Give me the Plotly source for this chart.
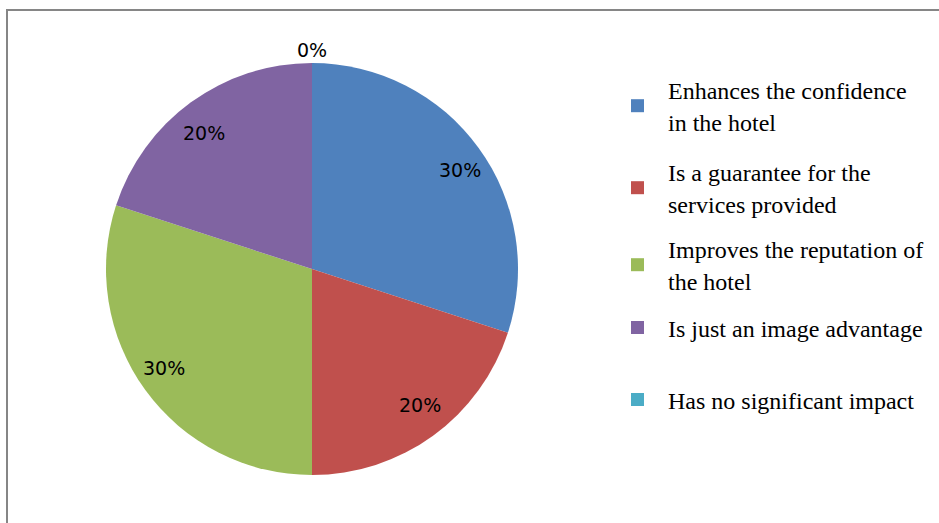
import math
import plotly.graph_objects as go

categories = [
    "Enhances the confidence<br>in the hotel",
    "Is a guarantee for the<br>services provided",
    "Improves the reputation of<br>the hotel",
    "Is just an image advantage",
    "Has no significant impact",
]
values = [30, 20, 30, 20, 0]
colors = ["#4F81BD", "#C0504D", "#9BBB59", "#8064A2", "#4BACC6"]

W, H = 939, 523
cx, cy, R = 312, 269, 206  # pie centre / radius in pixels

fig = go.Figure()
fig.add_trace(go.Pie(
    labels=categories,
    values=values,
    sort=False,
    direction="clockwise",
    rotation=0,
    marker=dict(colors=colors, line=dict(width=0)),
    textinfo="none",
    hoverinfo="label+percent",
    domain=dict(x=[(cx - R) / W, (cx + R) / W], y=[1 - (cy + R) / H, 1 - (cy - R) / H]),
    showlegend=False,
))

# legend entries (one legend box per entry so spacing can follow the original)
legend_centers = [106, 188, 265, 328, 400]
legend_names = ["legend", "legend2", "legend3", "legend4", "legend5"]
for name, col, lg in zip(categories, colors, legend_names):
    fig.add_trace(go.Scatter(
        x=[None], y=[None], mode="markers", name=name,
        marker=dict(symbol="square", size=13, color=col),
        legend=lg, showlegend=True, hoverinfo="skip",
    ))

# percentage labels placed from the data
total = sum(values)
cum = 0
annotations = []
for v in values:
    mid = (cum + v / 2) / total
    cum += v
    ang = 2 * math.pi * mid
    if v > 0:
        rx, ry = R * 0.89, R * 0.815
    else:
        rx, ry = R + 13, R + 13
    px = cx + rx * math.sin(ang)
    py = cy - ry * math.cos(ang)
    annotations.append(dict(
        x=px / W, y=1 - py / H, xref="paper", yref="paper",
        xanchor="center", yanchor="middle",
        text=f"{round(100 * v / total)}%", showarrow=False,
        font=dict(family="DejaVu Sans", size=19, color="#000000"),
    ))

leg_font = dict(family="Liberation Serif", size=24, color="#000000")
layout_legends = {}
for lg, yc in zip(legend_names, legend_centers):
    layout_legends[lg] = dict(
        x=607 / W, y=1 - yc / H, xanchor="left", yanchor="middle",
        font=leg_font, valign="middle", itemsizing="trace",
        itemwidth=51, bgcolor="rgba(0,0,0,0)",
    )

fig.update_layout(
    width=W, height=H,
    margin=dict(l=0, r=0, t=0, b=0),
    paper_bgcolor="white",
    plot_bgcolor="white",
    xaxis=dict(visible=False),
    yaxis=dict(visible=False),
    annotations=annotations,
    shapes=[
        dict(type="line", xref="paper", yref="paper", x0=6 / W, x1=1, y0=1 - 10 / H, y1=1 - 10 / H,
             line=dict(color="#868686", width=2)),
        dict(type="line", xref="paper", yref="paper", x0=7 / W, x1=7 / W, y0=0, y1=1 - 9 / H,
             line=dict(color="#868686", width=2)),
    ],
    **layout_legends,
)

fig.write_html(
    "out.html",
    config={"displayModeBar": False},
    post_script="document.body.style.margin='0px';document.body.style.overflow='hidden';",
)
